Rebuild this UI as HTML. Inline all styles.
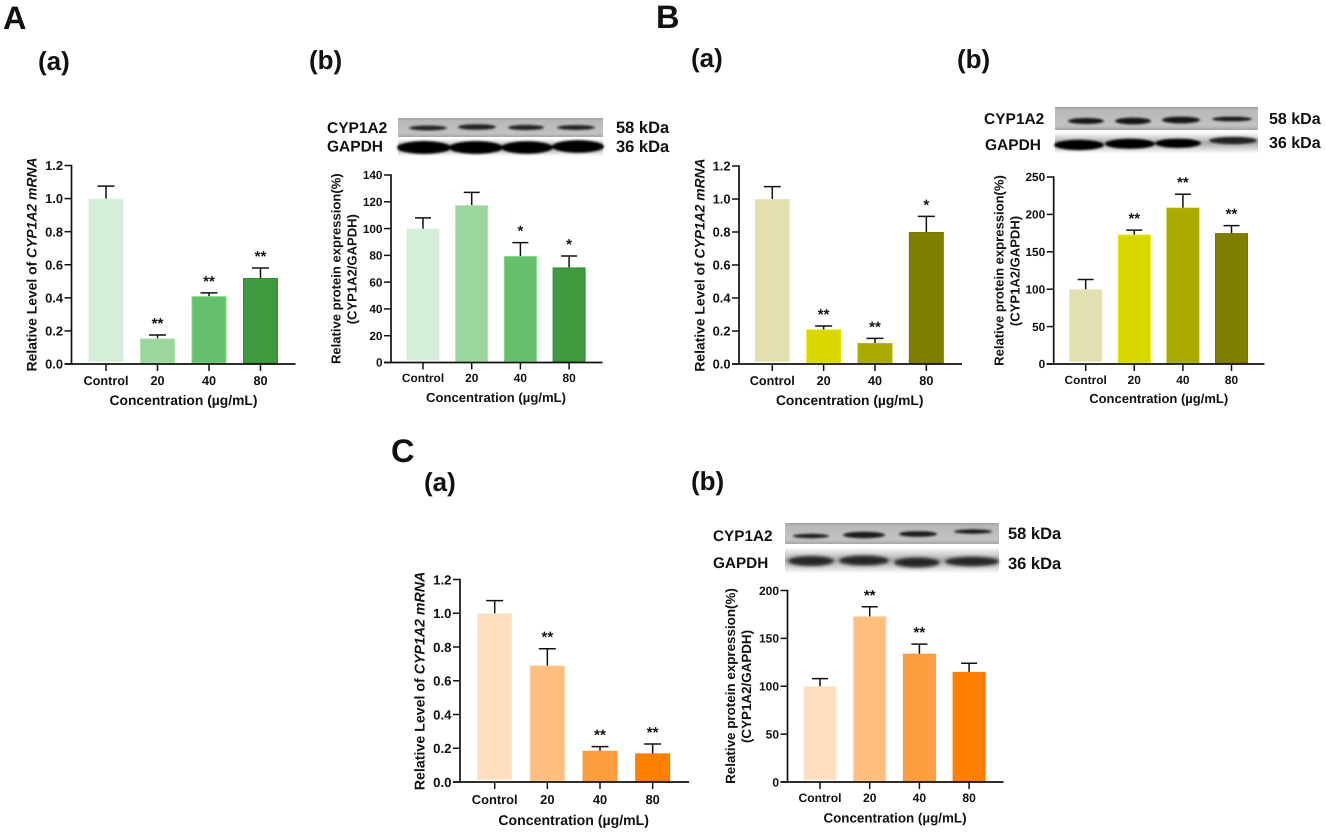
<!DOCTYPE html>
<html lang="en">
<head>
<meta charset="utf-8">
<title>CYP1A2 expression panels</title>
<style>
html,body{margin:0;padding:0;background:#fff;width:1325px;height:832px;overflow:hidden}
svg{display:block;position:absolute;left:0;top:0;filter:blur(0.35px)}
text{font-family:"Liberation Sans",sans-serif;font-weight:bold;fill:#111;text-rendering:geometricPrecision}
</style>
</head>
<body>
<svg id="fig" width="1325" height="832" viewBox="0 0 1325 832" xmlns="http://www.w3.org/2000/svg">
<defs>
<filter id="b1" x="-20%" y="-100%" width="140%" height="300%"><feGaussianBlur stdDeviation="1.0"/></filter>
<filter id="b2" x="-20%" y="-100%" width="140%" height="300%"><feGaussianBlur stdDeviation="1.5"/></filter>
<linearGradient id="gA" x1="0" y1="0" x2="0" y2="1"><stop offset="0" stop-color="#a2a2a2"/><stop offset=".15" stop-color="#b8b8b8"/><stop offset=".8" stop-color="#c2c2c2"/><stop offset="1" stop-color="#a6a6a6"/></linearGradient>
<linearGradient id="gW" x1="0" y1="0" x2="0" y2="1"><stop offset="0" stop-color="#fafafa"/><stop offset=".5" stop-color="#a8a8a8"/><stop offset="1" stop-color="#fbfbfb"/></linearGradient>
</defs>

<g>
<text x="3" y="29" font-size="32.5">A</text>
<text x="656" y="28" font-size="32.5">B</text>
<text x="391" y="462" font-size="32.5">C</text>
<text x="38" y="70" font-size="26">(a)</text>
<text x="309" y="69" font-size="26">(b)</text>
<text x="691" y="67" font-size="26">(a)</text>
<text x="957" y="68" font-size="26">(b)</text>
<text x="424" y="491" font-size="26">(a)</text>
<text x="691" y="490" font-size="26">(b)</text>
</g>

<g>
<text x="327" y="133" font-size="15.5">CYP1A2</text>
<text x="327" y="151.5" font-size="15.5">GAPDH</text>
<text x="616" y="133" font-size="16.5">58 kDa</text>
<text x="616" y="152" font-size="16.5">36 kDa</text>
<rect x="398" y="118" width="205" height="19" fill="url(#gA)"/>
<g fill="#222" filter="url(#b1)">
<ellipse cx="428" cy="128" rx="19" ry="2.4"/><ellipse cx="477" cy="127" rx="19" ry="2.8"/><ellipse cx="526" cy="127.5" rx="18" ry="2.6"/><ellipse cx="576" cy="127.5" rx="19" ry="2.4"/>
</g>
<rect x="398" y="139" width="205" height="17" fill="url(#gW)"/>
<g fill="#000" filter="url(#b1)">
<ellipse cx="424" cy="147.5" rx="27" ry="6.4"/><ellipse cx="476" cy="147.5" rx="27" ry="6.4"/><ellipse cx="527" cy="147.5" rx="26" ry="6.2"/><ellipse cx="578" cy="146.5" rx="26" ry="6.2"/>
</g>
</g>

<g>
<text x="984" y="124" font-size="15.5">CYP1A2</text>
<text x="985" y="150" font-size="15.5">GAPDH</text>
<text x="1269" y="124" font-size="16">58 kDa</text>
<text x="1269" y="148" font-size="16">36 kDa</text>
<rect x="1055" y="107" width="203" height="23" fill="url(#gA)"/>
<g fill="#151515" filter="url(#b1)">
<ellipse cx="1086" cy="121" rx="18" ry="3"/><ellipse cx="1133" cy="121" rx="18" ry="3.4"/><ellipse cx="1181" cy="120" rx="19" ry="3.4"/><ellipse cx="1232" cy="119" rx="20" ry="2.3"/>
</g>
<rect x="1055" y="133" width="203" height="20" fill="url(#gW)"/>
<g fill="#000" filter="url(#b1)">
<ellipse cx="1079" cy="145" rx="25" ry="5.2"/><ellipse cx="1130" cy="143.8" rx="25" ry="5"/><ellipse cx="1178" cy="143.3" rx="23" ry="4.6"/>
<ellipse cx="1233" cy="140.5" rx="24" ry="3.6" fill="#222"/>
</g>
</g>

<g>
<text x="713" y="541" font-size="15.3">CYP1A2</text>
<text x="713" y="568" font-size="15.3">GAPDH</text>
<text x="1008" y="539" font-size="16.5">58 kDa</text>
<text x="1008" y="569" font-size="16.5">36 kDa</text>
<rect x="785" y="523" width="214" height="21" fill="url(#gA)"/>
<g fill="#1a1a1a" filter="url(#b1)">
<ellipse cx="811" cy="536" rx="18" ry="2.2"/><ellipse cx="864" cy="535" rx="21" ry="3.2"/><ellipse cx="918" cy="534" rx="19" ry="2.8"/><ellipse cx="973" cy="531.5" rx="19" ry="2.2"/>
</g>
<rect x="785" y="548" width="214" height="25" fill="url(#gW)"/>
<g fill="#262626" filter="url(#b2)">
<ellipse cx="811" cy="561" rx="23" ry="5"/><ellipse cx="864" cy="560.5" rx="25" ry="5"/><ellipse cx="917" cy="562.5" rx="23" ry="5"/><ellipse cx="972" cy="561.5" rx="27" ry="4.8"/>
</g>
</g>

<g id="charts"></g>
</svg>

<script>
// Categories and axis ticks
const categories = ['Control', '20', '40', '80'];
const ticksMrna = [0, 0.2, 0.4, 0.6, 0.8, 1.0, 1.2];
const tickLabelsMrna = ['0.0', '0.2', '0.4', '0.6', '0.8', '1.0', '1.2'];
const ticksProteinA = [0, 20, 40, 60, 80, 100, 120, 140];
const tickLabelsProteinA = ['0', '20', '40', '60', '80', '100', '120', '140'];
const ticksProteinB = [0, 50, 100, 150, 200, 250];
const tickLabelsProteinB = ['0', '50', '100', '150', '200', '250'];
const ticksProteinC = [0, 50, 100, 150, 200];
const tickLabelsProteinC = ['0', '50', '100', '150', '200'];

// Series values (mean, upper error bar, significance)
const meanAa = [1.0, 0.155, 0.41, 0.52];
const upperAa = [1.075, 0.175, 0.43, 0.58];
const sigAa = ['', '**', '**', '**'];
const meanAb = [100, 117.5, 79.5, 71];
const upperAb = [108, 127, 89.5, 79.5];
const sigAb = ['', '', '*', '*'];
const meanBa = [1.0, 0.21, 0.127, 0.8];
const upperBa = [1.075, 0.23, 0.155, 0.895];
const sigBa = ['', '**', '**', '*'];
const meanBb = [100, 173, 209, 175];
const upperBb = [113, 179, 227, 185];
const sigBb = ['', '**', '**', '**'];
const meanCa = [1.0, 0.69, 0.185, 0.17];
const upperCa = [1.075, 0.79, 0.21, 0.225];
const sigCa = ['', '**', '**', '**'];
const meanCb = [100, 173, 134, 115];
const upperCb = [108, 183, 144, 124];
const sigCb = ['', '**', '**', ''];

const greens = ['#d5eed7', '#9bd69c', '#66bf6c', '#40983f'];
const greenEdges = ['#d9f0db', '#b4e2b4', '#82da84', '#2f8f33'];
const olives = ['#e2dfb0', '#d8d800', '#aaaa00', '#808000'];
const oliveEdges = ['#e8e6c0', '#e6e600', '#b5b500', '#757500'];
const oranges = ['#fddfc0', '#febf80', '#fd9f40', '#ff8000'];
const orangeEdges = ['#fee6cf', '#fdcb98', '#ff9a2e', '#ff7a00'];

const NS = 'http://www.w3.org/2000/svg';
function mk(tag, attrs, parent) {
  const el = document.createElementNS(NS, tag);
  for (const k in attrs) el.setAttribute(k, attrs[k]);
  parent.appendChild(el);
  return el;
}

function drawChart(c) {
  const root = document.getElementById('charts');
  const g = mk('g', {}, root);
  
  

  const yMax = c.ticks[c.ticks.length - 1];
  const sy = v => c.y0 - (v / yMax) * (c.y0 - c.yTop);
  const sx = i => c.cx0 + i * c.step;
  const n = categories.length;

  // bars
  for (let i = 0; i < n; i++) {
    const top = sy(c.mean[i]);
    const bottom = i === 0 ? c.y0 - 2.5 : c.y0 - 1;
    const bar = mk('rect', {
      x: sx(i) - c.barW / 2 + 0.5, y: top + 0.5, width: c.barW - 1, height: bottom - top - 0.5,
      fill: c.colors[i], stroke: c.edges[i], 'stroke-width': 1
    }, g);
    
    

    const err = mk('path', {
      d: 'M' + sx(i) + ' ' + top + 'V' + sy(c.upper[i]) +
         'M' + (sx(i) - c.capW / 2) + ' ' + sy(c.upper[i]) + 'H' + (sx(i) + c.capW / 2),
      stroke: '#111', 'stroke-width': 1.5, fill: 'none'
    }, g);
    
    

    if (c.sig[i]) {
      const star = mk('text', {
        x: sx(i), y: sy(c.upper[i]) - 6.5, 'font-size': 15, 'text-anchor': 'middle'
      }, g);
      star.textContent = c.sig[i];
      
      
    }
  }

  // axes
  const yAxis = mk('line', {
    x1: c.axisX, x2: c.axisX, y1: c.yTop - 0.8, y2: c.y0 + 0.8, stroke: '#111', 'stroke-width': 1.7
  }, g);
  
  
  const xAxis = mk('line', {
    x1: c.axisX - 7, x2: c.axisEnd, y1: c.y0, y2: c.y0, stroke: '#111', 'stroke-width': 1.7
  }, g);
  
  

  // y ticks
  c.ticks.forEach((t, i) => {
    const tick = mk('line', {
      x1: c.axisX - 7, x2: c.axisX, y1: sy(t), y2: sy(t), stroke: '#111', 'stroke-width': 1.5
    }, g);
    
    
    const lab = mk('text', {
      x: c.axisX - 8.5, y: sy(t) + c.tickFont * 0.36, 'font-size': c.tickFont, 'text-anchor': 'end'
    }, g);
    lab.textContent = c.tickLabels[i];
    
    
  });

  // x ticks
  categories.forEach((cat, i) => {
    const tick = mk('line', {
      x1: sx(i), x2: sx(i), y1: c.y0, y2: c.y0 + 7, stroke: '#111', 'stroke-width': 1.5
    }, g);
    
    
    const lab = mk('text', {
      x: sx(i), y: c.xLabelY, 'font-size': c.xFont, 'text-anchor': 'middle'
    }, g);
    lab.textContent = cat;
    
    
  });

  // x title
  const xt = mk('text', {
    x: c.xTitleX, y: c.xTitleY, 'font-size': c.xTitleFont, 'text-anchor': 'middle'
  }, g);
  xt.textContent = 'Concentration (\u00b5g/mL)';
  
  

  // y title
  if (c.kind === 'mrna') {
    const yt = mk('text', {
      transform: 'translate(' + c.yTitleX + ' ' + c.yTitleY + ') rotate(-90)',
      'font-size': c.yTitleFont, 'text-anchor': 'middle'
    }, g);
    yt.appendChild(document.createTextNode('Relative Level of '));
    const it = mk('tspan', { 'font-style': 'italic' }, yt);
    it.textContent = 'CYP1A2 mRNA';
    
    
  } else {
    const y1 = mk('text', {
      transform: 'translate(' + c.yTitleX + ' ' + c.yTitleY + ') rotate(-90)',
      'font-size': c.yTitleFont, 'text-anchor': 'middle'
    }, g);
    y1.textContent = 'Relative protein expression(%)';
    
    
    const y2 = mk('text', {
      transform: 'translate(' + (c.yTitleX + 16) + ' ' + (c.yTitleY + 0.5) + ') rotate(-90)',
      'font-size': c.yTitleFont, 'text-anchor': 'middle'
    }, g);
    y2.textContent = '(CYP1A2/GAPDH)';
    
    
  }
}

drawChart({ name: 'chart-a-mrna', kind: 'mrna', mean: meanAa, upper: upperAa, sig: sigAa, colors: greens, edges: greenEdges,
  ticks: ticksMrna, tickLabels: tickLabelsMrna, axisX: 71.5, axisEnd: 295.5, y0: 364, yTop: 165.5,
  cx0: 106, step: 51.5, barW: 35, capW: 17, tickFont: 12.9, xFont: 12.7, xLabelY: 385,
  xTitleX: 183.5, xTitleY: 405, xTitleFont: 13.85, yTitleX: 36.7, yTitleY: 264.5, yTitleFont: 13.9 });

drawChart({ name: 'chart-a-protein', kind: 'protein', mean: meanAb, upper: upperAb, sig: sigAb, colors: greens, edges: greenEdges,
  ticks: ticksProteinA, tickLabels: tickLabelsProteinA, axisX: 391, axisEnd: 602.5, y0: 362.5, yTop: 175,
  cx0: 423, step: 48.7, barW: 33, capW: 16, tickFont: 11.8, xFont: 11.9, xLabelY: 382,
  xTitleX: 496, xTitleY: 402, xTitleFont: 13.1, yTitleX: 340.7, yTitleY: 268.7, yTitleFont: 13.05 });

drawChart({ name: 'chart-b-mrna', kind: 'mrna', mean: meanBa, upper: upperBa, sig: sigBa, colors: olives, edges: oliveEdges,
  ticks: ticksMrna, tickLabels: tickLabelsMrna, axisX: 739, axisEnd: 962, y0: 364, yTop: 166,
  cx0: 772.3, step: 51.35, barW: 35, capW: 17, tickFont: 12.9, xFont: 12.7, xLabelY: 385,
  xTitleX: 849.7, xTitleY: 405, xTitleFont: 13.8, yTitleX: 704.3, yTitleY: 265, yTitleFont: 13.85 });

drawChart({ name: 'chart-b-protein', kind: 'protein', mean: meanBb, upper: upperBb, sig: sigBb, colors: olives, edges: oliveEdges,
  ticks: ticksProteinB, tickLabels: tickLabelsProteinB, axisX: 1053.7, axisEnd: 1264.5, y0: 364, yTop: 177,
  cx0: 1085.7, step: 48.6, barW: 33, capW: 16, tickFont: 11.8, xFont: 11.9, xLabelY: 384,
  xTitleX: 1158.7, xTitleY: 403, xTitleFont: 13, yTitleX: 1003.3, yTitleY: 270.5, yTitleFont: 13.05 });

drawChart({ name: 'chart-c-mrna', kind: 'mrna', mean: meanCa, upper: upperCa, sig: sigCa, colors: oranges, edges: orangeEdges,
  ticks: ticksMrna, tickLabels: tickLabelsMrna, axisX: 460, axisEnd: 689, y0: 782, yTop: 579.5,
  cx0: 494.7, step: 52.65, barW: 35, capW: 17, tickFont: 13.2, xFont: 12.9, xLabelY: 804,
  xTitleX: 573.7, xTitleY: 825, xTitleFont: 14.1, yTitleX: 424.3, yTitleY: 681, yTitleFont: 14.2 });

drawChart({ name: 'chart-c-protein', kind: 'protein', mean: meanCb, upper: upperCb, sig: sigCb, colors: oranges, edges: orangeEdges,
  ticks: ticksProteinC, tickLabels: tickLabelsProteinC, axisX: 787.5, axisEnd: 1003.5, y0: 782, yTop: 590.5,
  cx0: 820, step: 49.7, barW: 33, capW: 16, tickFont: 12, xFont: 12.1, xLabelY: 802,
  xTitleX: 895, xTitleY: 822.7, xTitleFont: 13.4, yTitleX: 735, yTitleY: 686, yTitleFont: 13.4 });
</script>
</body>
</html>
